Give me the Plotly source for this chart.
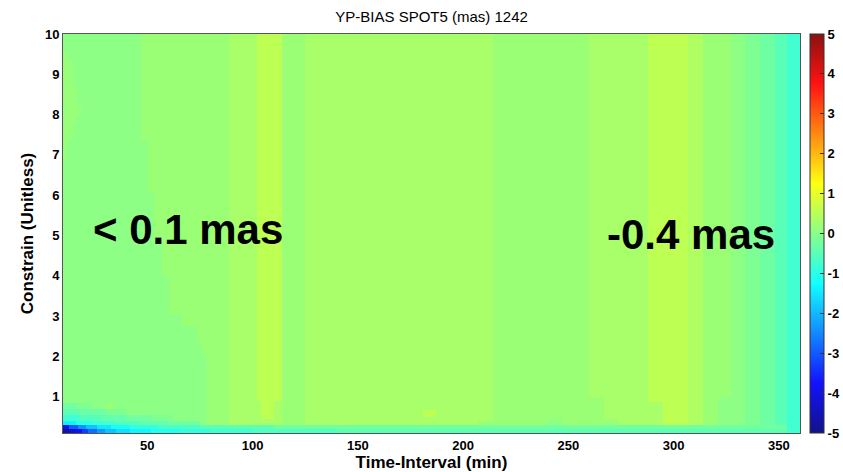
import plotly.graph_objects as go

# Column bands of the bias field (time-interval edges in min, bias in mas)
band_edges = [10, 47, 89, 102, 114, 125, 214, 260, 288, 307, 314, 327, 334, 341, 348, 354, 360]
band_bias = [0.05, 0.19, 0.33, 0.56, 0.19, 0.33, 0.19, 0.33, 0.56, 0.41, 0.19, 0.05, -0.12, -0.28, -0.49, -0.75]

# Local cells that depart from the column bands: (t0, t1, c0, c1, bias)
local_cells = [
    # near-zero zone widening towards low constraint
    (47, 50.5, 0.1, 7.34, 0.05), (50.5, 53, 0.1, 6.07, 0.05), (53, 57, 0.1, 4.9, 0.05),
    (57, 60.5, 0.1, 4.0, 0.05), (60.5, 66.7, 0.1, 3.05, 0.05), (66.7, 73.8, 0.1, 2.75, 0.05),
    (73.8, 76, 0.1, 2.36, 0.05), (76, 78.6, 0.1, 2.06, 0.05),
    # upper-left sliver
    (10, 11.9, 6.9, 9.57, 0.15), (11.9, 14.8, 7.39, 9.32, 0.15),
    (14.8, 16.7, 7.76, 8.68, 0.15), (16.7, 19, 8.0, 8.21, 0.15),
    # isolated spots
    (30.5, 33.8, 0.52, 0.82, 0.19), (181, 187, 0.5, 0.67, 0.56),
    # lower structure of the bands
    (102, 104, 0.3, 0.89, 0.33), (110, 114, 0.3, 0.89, 0.33), (104, 110, 0.3, 0.45, 0.33),
    (207, 214, 0.3, 0.4, 0.19), (240, 247, 0.3, 0.45, 0.05),
    (260, 267, 0.3, 0.99, 0.19), (267, 274, 0.3, 0.45, 0.19),
    (288, 295, 0.3, 0.87, 0.33), (321, 327, 0.3, 0.99, 0.05),
    # bottom rows, c in 0.7-0.85
    (10, 16, 0.7, 0.85, -0.25), (16, 24, 0.7, 0.85, -0.1),
    # c in 0.55-0.7
    (10, 18, 0.55, 0.7, -0.45), (18, 30, 0.55, 0.7, -0.3), (30, 40, 0.55, 0.7, -0.12),
    # c in 0.4-0.55
    (10, 18, 0.4, 0.55, -0.75), (18, 28, 0.4, 0.55, -0.55), (28, 40, 0.4, 0.55, -0.4),
    (40, 52, 0.4, 0.55, -0.25), (52, 62, 0.4, 0.55, -0.1),
    # c in 0.3-0.4
    (10, 16, 0.3, 0.4, -1.4), (16, 24, 0.3, 0.4, -1.0), (24, 34, 0.3, 0.4, -0.75),
    (34, 46, 0.3, 0.4, -0.55), (46, 60, 0.3, 0.4, -0.4), (60, 75, 0.3, 0.4, -0.25),
    # c in 0.2-0.3
    (10, 13, 0.2, 0.3, -3.8), (13, 17, 0.2, 0.3, -3.0), (17, 21, 0.2, 0.3, -2.4),
    (21, 26, 0.2, 0.3, -1.9), (26, 33, 0.2, 0.3, -1.5), (33, 42, 0.2, 0.3, -1.2),
    (42, 55, 0.2, 0.3, -0.9), (55, 75, 0.2, 0.3, -0.65), (75, 110, 0.2, 0.3, -0.45),
    (110, 354, 0.2, 0.3, -0.25),
    # c in 0.1-0.2
    (10, 13, 0.1, 0.2, -4.8), (13, 16, 0.1, 0.2, -4.3), (16, 19, 0.1, 0.2, -3.8),
    (19, 22, 0.1, 0.2, -3.3), (22, 26, 0.1, 0.2, -2.8), (26, 30, 0.1, 0.2, -2.3),
    (30, 35, 0.1, 0.2, -1.9), (35, 42, 0.1, 0.2, -1.6), (42, 52, 0.1, 0.2, -1.35),
    (52, 65, 0.1, 0.2, -1.1), (65, 80, 0.1, 0.2, -0.9), (80, 100, 0.1, 0.2, -0.75),
    (100, 140, 0.1, 0.2, -0.6), (140, 354, 0.1, 0.2, -0.45),
]

t_lo, t_hi = 10, 360
c_lo, c_hi = 0.1, 10

# Cell edges: every boundary that appears in the bands or local cells
x_edges = sorted(set(band_edges) | {p[0] for p in local_cells} | {p[1] for p in local_cells})
y_edges = sorted({c_lo, c_hi} | {p[2] for p in local_cells} | {p[3] for p in local_cells})

z = []
for j in range(len(y_edges) - 1):
    yc = 0.5 * (y_edges[j] + y_edges[j + 1])
    row = []
    for i in range(len(x_edges) - 1):
        xc = 0.5 * (x_edges[i] + x_edges[i + 1])
        v = band_bias[-1]
        for k in range(len(band_bias)):
            if band_edges[k] <= xc < band_edges[k + 1]:
                v = band_bias[k]
                break
        for (a, b, c, d, val) in local_cells:
            if a <= xc < b and c <= yc < d:
                v = val
        row.append(v)
    z.append(row)


def wash(rgb):
    return "rgb(%d,%d,%d)" % tuple(round(18 + 0.93 * c) for c in rgb)


jet = [
    [0.0, wash((0, 0, 128))],
    [0.125, wash((0, 0, 255))],
    [0.375, wash((0, 255, 255))],
    [0.625, wash((255, 255, 0))],
    [0.875, wash((255, 0, 0))],
    [1.0, wash((128, 0, 0))],
]

cbar_ticks = list(range(-5, 6))

font_family = "Liberation Sans, Arial, Helvetica, sans-serif"

fig = go.Figure(
    go.Heatmap(
        x=x_edges,
        y=y_edges,
        z=z,
        zmin=-5,
        zmax=5,
        colorscale=jet,
        zsmooth=False,
        colorbar=dict(
            x=1.0136,
            xanchor="left",
            y=0.5,
            yanchor="middle",
            len=1.0,
            lenmode="fraction",
            thickness=14,
            thicknessmode="pixels",
            outlinecolor="#333333",
            outlinewidth=1,
            tickvals=cbar_ticks,
            ticktext=[str(t) for t in cbar_ticks],
            ticks="inside",
            ticklen=4,
            tickcolor="#333333",
            tickfont=dict(family=font_family, size=13, color="black", weight="bold"),
            xpad=0,
            ypad=0,
        ),
    )
)

fig.add_annotation(x=69.3, y=5.15, text="< 0.1 mas", showarrow=False,
                   font=dict(family=font_family, size=42, color="black", weight="bold"))
fig.add_annotation(x=308, y=5.03, text="-0.4 mas", showarrow=False,
                   font=dict(family=font_family, size=42, color="black", weight="bold"))

fig.update_layout(
    width=843,
    height=472,
    margin=dict(l=63, r=43, t=34, b=39, autoexpand=False),
    paper_bgcolor="white",
    plot_bgcolor="white",
    title=dict(text="YP-BIAS SPOT5 (mas) 1242", x=0.512, xanchor="center", y=0.965, yanchor="middle",
               font=dict(family=font_family, size=15, color="black")),
    xaxis=dict(
        range=[t_lo, t_hi],
        tickvals=[50, 100, 150, 200, 250, 300, 350],
        ticks="",
        showgrid=False,
        zeroline=False,
        showline=True,
        mirror=True,
        linecolor="#555555",
        linewidth=1,
        tickfont=dict(family=font_family, size=13, color="black", weight="bold"),
        title=dict(text="Time-Interval (min)", standoff=2,
                   font=dict(family=font_family, size=17, color="black", weight="bold")),
    ),
    yaxis=dict(
        range=[c_lo, c_hi],
        tickvals=list(range(1, 11)),
        ticks="",
        showgrid=False,
        zeroline=False,
        showline=True,
        mirror=True,
        linecolor="#555555",
        linewidth=1,
        tickfont=dict(family=font_family, size=13, color="black", weight="bold"),
        title=dict(text="Constrain (Unitless)", standoff=6,
                   font=dict(family=font_family, size=17, color="black", weight="bold")),
    ),
)

fig.write_html("out.html")
